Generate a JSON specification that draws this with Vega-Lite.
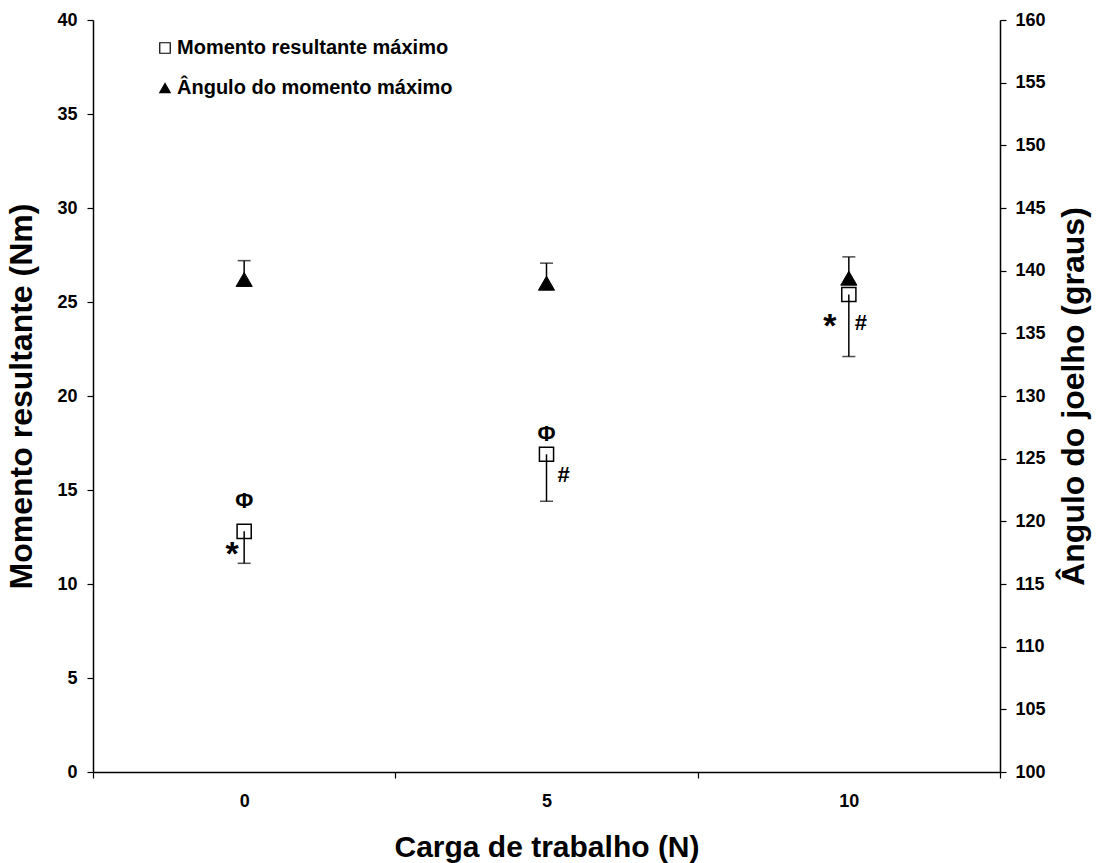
{
  "$schema": "https://vega.github.io/schema/vega-lite/v6.json",
  "width": 907,
  "height": 752,
  "autosize": "none",
  "padding": {"left": 93, "top": 20, "right": 102, "bottom": 91},
  "background": "white",
  "config": {
    "view": {"stroke": null},
    "axis": {
      "domainColor": "black", "domainWidth": 1.5, "tickColor": "black", "tickWidth": 1.2,
      "labelFont": "Liberation Sans", "labelFontWeight": "bold", "labelFontSize": 18, "labelColor": "black",
      "titleFont": "Liberation Sans", "titleFontWeight": "bold", "titleFontSize": 32, "titleColor": "black",
      "grid": false
    },
    "legend": {
      "labelFont": "Liberation Sans", "labelFontWeight": "bold", "labelFontSize": 20, "labelColor": "black", "labelLimit": 500
    }
  },
  "datasets": {
    "moment": [
      {"carga": "0", "value": 12.8, "low": 11.1},
      {"carga": "5", "value": 16.9, "low": 14.4},
      {"carga": "10", "value": 25.4, "low": 22.1}
    ],
    "angle": [
      {"carga": "0", "value": 139.3, "high": 140.8},
      {"carga": "5", "value": 139.0, "high": 140.6},
      {"carga": "10", "value": 139.4, "high": 141.1}
    ],
    "phi": [
      {"carga": "0", "y": 14.4, "label": "Φ"},
      {"carga": "5", "y": 18.0, "label": "Φ"}
    ],
    "star0": [{"carga": "0", "y": 11.6, "label": "*"}],
    "star10": [{"carga": "10", "y": 23.7, "label": "*"}],
    "hash5": [{"carga": "5", "y": 15.8, "label": "#"}],
    "hash10": [{"carga": "10", "y": 23.9, "label": "#"}]
  },
  "encoding": {
    "x": {
      "field": "carga", "type": "ordinal", "sort": ["0", "5", "10"],
      "scale": {"type": "band", "domain": ["0", "5", "10"], "paddingInner": 0, "paddingOuter": 0},
      "axis": {"title": "Carga de trabalho (N)", "labelAngle": 0, "tickBand": "extent", "tickSize": 6, "labelPadding": 14, "titlePadding": 22, "titleFontSize": 30}
    }
  },
  "layer": [
    {
      "encoding": {
        "y": {"type": "quantitative", "scale": {"domain": [0, 40]}, "title": "Momento resultante (Nm)",
          "axis": {"orient": "left", "values": [0, 5, 10, 15, 20, 25, 30, 35, 40], "tickSize": 6, "labelPadding": 10, "titlePadding": 18}}
      },
      "layer": [
        {
          "data": {"name": "moment"},
          "mark": {"type": "rule", "color": "black", "strokeWidth": 1.5},
          "encoding": {"y": {"field": "low", "type": "quantitative", "scale": {"domain": [0, 40]}, "title": "Momento resultante (Nm)"}, "y2": {"field": "value"}}
        },
        {
          "data": {"name": "moment"},
          "mark": {"type": "tick", "orient": "horizontal", "color": "black", "size": 13, "thickness": 1.5},
          "encoding": {"y": {"field": "low", "type": "quantitative", "scale": {"domain": [0, 40]}, "title": "Momento resultante (Nm)"}}
        },
        {
          "data": {"name": "moment"},
          "mark": {"type": "point", "strokeWidth": 1.5, "size": 200, "opacity": 1, "filled": false},
          "encoding": {
            "y": {"field": "value", "type": "quantitative", "scale": {"domain": [0, 40]}, "title": "Momento resultante (Nm)"},
            "shape": {"datum": "Momento resultante máximo", "type": "nominal",
              "scale": {"domain": ["Momento resultante máximo", "Ângulo do momento máximo"], "range": ["square", "triangle-up"]},
              "legend": {"title": null, "orient": "none", "legendX": 62, "legendY": 18, "padding": 0, "rowPadding": 20, "labelOffset": 2, "symbolSize": 110, "symbolStrokeWidth": 1.2}},
            "fill": {"datum": "Momento resultante máximo", "type": "nominal",
              "scale": {"domain": ["Momento resultante máximo", "Ângulo do momento máximo"], "range": ["transparent", "black"]},
              "legend": {"title": null, "orient": "none", "legendX": 62, "legendY": 18, "padding": 0, "rowPadding": 20, "labelOffset": 2, "symbolSize": 110, "symbolStrokeWidth": 1.2}},
            "stroke": {"datum": "Momento resultante máximo", "type": "nominal",
              "scale": {"domain": ["Momento resultante máximo", "Ângulo do momento máximo"], "range": ["black", "black"]},
              "legend": {"title": null, "orient": "none", "legendX": 62, "legendY": 18, "padding": 0, "rowPadding": 20, "labelOffset": 2, "symbolSize": 110, "symbolStrokeWidth": 1.2}}
          }
        },
        {
          "data": {"name": "phi"},
          "mark": {"type": "text", "font": "Liberation Sans", "fontWeight": "bold", "fontSize": 22, "color": "black", "baseline": "middle"},
          "encoding": {"y": {"field": "y", "type": "quantitative", "scale": {"domain": [0, 40]}, "title": "Momento resultante (Nm)"}, "text": {"field": "label"}}
        },
        {
          "data": {"name": "star0"},
          "mark": {"type": "text", "font": "Liberation Sans", "fontWeight": "bold", "fontSize": 34, "color": "black", "baseline": "middle", "dx": -12, "dy": 1},
          "encoding": {"y": {"field": "y", "type": "quantitative", "scale": {"domain": [0, 40]}, "title": "Momento resultante (Nm)"}, "text": {"field": "label"}}
        },
        {
          "data": {"name": "star10"},
          "mark": {"type": "text", "font": "Liberation Sans", "fontWeight": "bold", "fontSize": 34, "color": "black", "baseline": "middle", "dx": -19, "dy": 1},
          "encoding": {"y": {"field": "y", "type": "quantitative", "scale": {"domain": [0, 40]}, "title": "Momento resultante (Nm)"}, "text": {"field": "label"}}
        },
        {
          "data": {"name": "hash5"},
          "mark": {"type": "text", "font": "Liberation Sans", "fontWeight": "bold", "fontSize": 22, "color": "black", "baseline": "middle", "dx": 17},
          "encoding": {"y": {"field": "y", "type": "quantitative", "scale": {"domain": [0, 40]}, "title": "Momento resultante (Nm)"}, "text": {"field": "label"}}
        },
        {
          "data": {"name": "hash10"},
          "mark": {"type": "text", "font": "Liberation Sans", "fontWeight": "bold", "fontSize": 22, "color": "black", "baseline": "middle", "dx": 12},
          "encoding": {"y": {"field": "y", "type": "quantitative", "scale": {"domain": [0, 40]}, "title": "Momento resultante (Nm)"}, "text": {"field": "label"}}
        }
      ]
    },
    {
      "data": {"name": "angle"},
      "encoding": {
        "y": {"type": "quantitative", "scale": {"domain": [100, 160]}, "title": "Ângulo do joelho (graus)",
          "axis": {"orient": "right", "values": [100, 105, 110, 115, 120, 125, 130, 135, 140, 145, 150, 155, 160], "tickSize": 6, "labelPadding": 9, "titlePadding": 13, "titleAngle": -90, "titleBaseline": "top"}}
      },
      "layer": [
        {
          "mark": {"type": "rule", "color": "black", "strokeWidth": 1.5},
          "encoding": {"y": {"field": "value", "type": "quantitative", "scale": {"domain": [100, 160]}, "title": "Ângulo do joelho (graus)"}, "y2": {"field": "high"}}
        },
        {
          "mark": {"type": "tick", "orient": "horizontal", "color": "black", "size": 13, "thickness": 1.5},
          "encoding": {"y": {"field": "high", "type": "quantitative", "scale": {"domain": [100, 160]}, "title": "Ângulo do joelho (graus)"}}
        },
        {
          "mark": {"type": "point", "strokeWidth": 1, "size": 260, "opacity": 1, "filled": true},
          "encoding": {
            "y": {"field": "value", "type": "quantitative", "scale": {"domain": [100, 160]}, "title": "Ângulo do joelho (graus)"},
            "shape": {"datum": "Ângulo do momento máximo", "type": "nominal"},
            "fill": {"datum": "Ângulo do momento máximo", "type": "nominal"},
            "stroke": {"datum": "Ângulo do momento máximo", "type": "nominal"}
          }
        }
      ]
    }
  ],
  "resolve": {"scale": {"y": "independent"}}
}
